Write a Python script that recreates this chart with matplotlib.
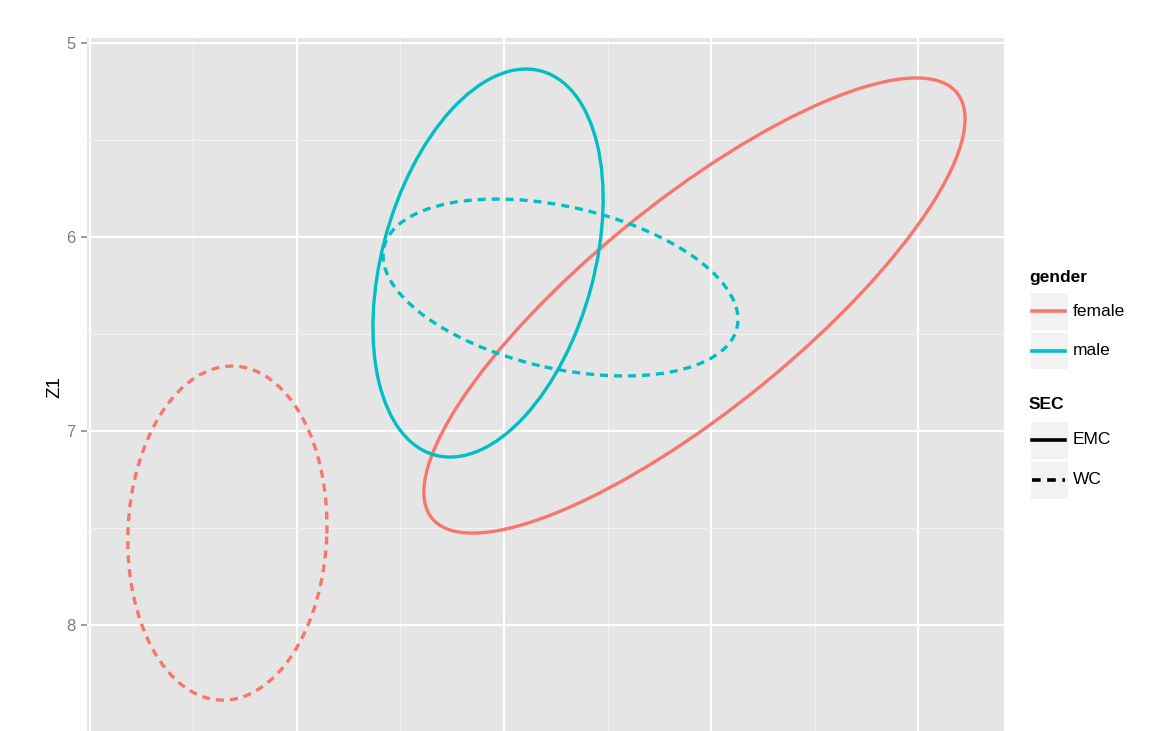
import numpy as np
import matplotlib.pyplot as plt
from matplotlib.patches import Ellipse, Rectangle
from matplotlib.lines import Line2D

plt.rcParams['font.family'] = ['Liberation Sans', 'DejaVu Sans']

# one ellipse per gender x SEC group: centre, half-ranges and correlation
gender = ["female", "female", "male", "male"]
sec = ["EMC", "WC", "EMC", "WC"]
center_x = [0.920, -1.336, -0.077, 0.273]
center_z1 = [6.353, 7.526, 6.134, 6.260]
half_x = [1.307, 0.481, 0.556, 0.857]
half_z1 = [1.173, 0.861, 1.000, 0.456]
corr = [-0.82, -0.045, -0.33, 0.36]

gender_levels = ["female", "male"]
sec_levels = ["EMC", "WC"]
gender_colors = {"female": "#F8766D", "male": "#00BFC4"}
sec_styles = {"EMC": "-", "WC": (0, (2.4, 1.8))}

W, H = 1172, 731
fig = plt.figure(figsize=(W / 100, H / 100), dpi=100)
ax = fig.add_axes([87 / W, 0, 917 / W, 1 - 38 / H])
ax.set_facecolor("#E5E5E5")

for g, s, cx, cy, sx, sy, r in zip(gender, sec, center_x, center_z1, half_x, half_z1, corr):
    cov = np.array([[sx * sx, r * sx * sy], [r * sx * sy, sy * sy]])
    vals, vecs = np.linalg.eigh(cov)
    angle = np.degrees(np.arctan2(vecs[1, 1], vecs[0, 1]))
    ell = Ellipse((cx, cy), 2 * np.sqrt(vals[1]), 2 * np.sqrt(vals[0]), angle=angle,
                  fill=False, edgecolor=gender_colors[g], linewidth=2.4,
                  linestyle=sec_styles[s], zorder=3)
    ax.add_patch(ell)

ax.set_xlim(-2.014, 2.415)
ax.set_ylim(8.546, 4.974)

ax.set_xticks([-2, -1, 0, 1, 2])
ax.set_xticks([-1.5, -0.5, 0.5, 1.5], minor=True)
ax.set_yticks([5, 6, 7, 8])
ax.set_yticks([5.5, 6.5, 7.5], minor=True)
ax.grid(which="major", color="white", linewidth=1.5)
ax.grid(which="minor", color="#F2F2F2", linewidth=0.75)
ax.set_axisbelow(True)

for sp in ax.spines.values():
    sp.set_visible(False)
ax.tick_params(axis="x", which="both", length=0, labelbottom=False)
ax.tick_params(axis="y", which="minor", length=0)
ax.tick_params(axis="y", which="major", length=4.5, width=1.1, color="#7F7F7F",
               labelcolor="#7F7F7F", labelsize=12, pad=4)

ax.set_ylabel("Z1", fontsize=13.5, color="black")
ax.yaxis.set_label_coords(-0.026, 0.497)


def fx(px):
    return px / W


def fy(py):
    return 1 - py / H


# legend: gender (colour) then SEC (line type)
def key_box(top, bottom):
    fig.add_artist(Rectangle((fx(1030), fy(bottom)), fx(1068) - fx(1030), fy(top) - fy(bottom),
                             transform=fig.transFigure, facecolor="#F2F2F2",
                             edgecolor="white", linewidth=0.8))


fig.text(fx(1029), fy(282), "gender", fontsize=12.5, fontweight="bold", va="baseline")
rows = [(292, 330), (332, 369)]
for lev, (t, b) in zip(gender_levels, rows):
    key_box(t, b)
    yc = (t + b) / 2
    fig.add_artist(Line2D([fx(1032), fx(1065)], [fy(yc), fy(yc)], transform=fig.transFigure,
                          color=gender_colors[lev], linewidth=2.6))
    fig.text(fx(1073), fy(yc), lev, fontsize=12.5, va="center")

fig.text(fx(1029), fy(409), "SEC", fontsize=12.5, fontweight="bold", va="baseline")
rows = [(421, 459), (461, 499)]
for lev, (t, b) in zip(sec_levels, rows):
    key_box(t, b)
    yc = (t + b) / 2
    fig.add_artist(Line2D([fx(1032), fx(1065)], [fy(yc), fy(yc)], transform=fig.transFigure,
                          color="black", linewidth=2.6, linestyle=sec_styles[lev]))
    fig.text(fx(1073), fy(yc), lev, fontsize=12.5, va="center")

fig.savefig("out.png", dpi=100)
